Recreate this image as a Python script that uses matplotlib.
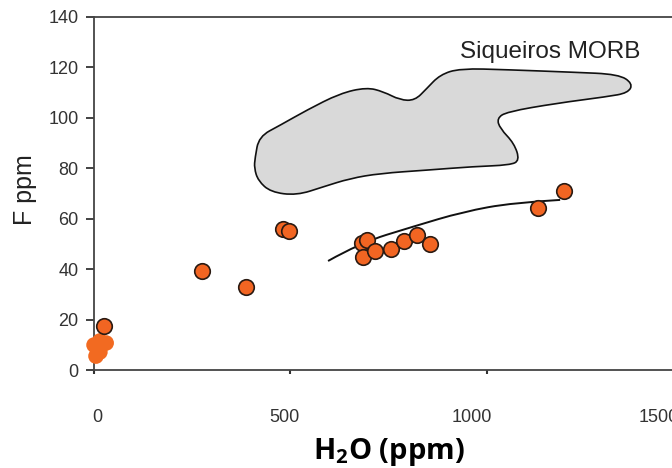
import matplotlib
matplotlib.use("Agg")
import matplotlib.pyplot as plt
from matplotlib.patches import PathPatch
from matplotlib.path import Path

plt.rcParams["font.family"] = ["Liberation Sans", "DejaVu Sans"]
plt.rcParams["mathtext.fontset"] = "custom"
plt.rcParams["mathtext.rm"] = "Open Sans"
plt.rcParams["mathtext.bf"] = "Open Sans:bold"

# samples with outline (H2O ppm, F ppm)
h2o = [25, 275, 387, 481, 497, 682, 694, 684, 716, 756, 789, 823, 856, 1131, 1198]
f_ppm = [17.4, 39.3, 33.0, 56.0, 55.0, 50.5, 51.5, 44.6, 47.2, 48.1, 51.2, 53.4, 49.9, 64.1, 71.0]

# low-H2O samples without outline
h2o_low = [0, 15, 31, 5, 15]
f_low = [9.9, 11.5, 10.7, 5.5, 7.1]

# trend curve (control points)
curve_h2o = [596, 677, 812, 940, 1067, 1187]
curve_f = [43.2, 50.3, 56.8, 62.7, 66.3, 67.4]

# Siqueiros MORB field outline (control points)
morb_h2o = [410, 420, 474, 542, 626, 694, 737, 779, 817, 847, 881, 932, 1051, 1220,
            1336, 1372, 1360, 1306, 1178, 1051, 1026, 1034, 1070, 1084, 1059, 966,
            847, 728, 652, 584, 516, 450, 418, 408]
morb_f = [84.0, 92.5, 97.0, 103.0, 109.6, 112.0, 110.3, 107.0, 106.8, 111.5, 117.0,
          119.5, 119.0, 118.0, 117.2, 113.5, 109.8, 108.3, 105.7, 102.3, 99.7, 95.7,
          89.8, 83.0, 81.2, 80.6, 79.2, 77.9, 75.9, 72.6, 69.2, 70.5, 75.0, 80.0]

x_ticks = [0, 500, 1000, 1500]
y_ticks = [0, 20, 40, 60, 80, 100, 120, 140]


def smooth_closed_path(xs, ys):
    # quadratic bezier through edge midpoints, control points at the vertices
    pts = list(zip(xs, ys))
    n = len(pts)
    mids = [((pts[i][0] + pts[(i + 1) % n][0]) / 2, (pts[i][1] + pts[(i + 1) % n][1]) / 2)
            for i in range(n)]
    verts = [mids[-1]]
    codes = [Path.MOVETO]
    for i in range(n):
        verts += [pts[i], mids[i]]
        codes += [Path.CURVE3, Path.CURVE3]
    verts.append(mids[-1])
    codes.append(Path.CLOSEPOLY)
    return Path(verts, codes)


def smooth_open_path(xs, ys):
    pts = list(zip(xs, ys))
    verts = [pts[0]]
    codes = [Path.MOVETO]
    for i in range(1, len(pts) - 1):
        mid = ((pts[i][0] + pts[i + 1][0]) / 2, (pts[i][1] + pts[i + 1][1]) / 2)
        if i == len(pts) - 2:
            mid = pts[-1]
        verts += [pts[i], mid]
        codes += [Path.CURVE3, Path.CURVE3]
    return Path(verts, codes)


fig = plt.figure(figsize=(6.72, 4.68), dpi=100)
ax = fig.add_axes([0.1399, 0.2094, 0.935, 0.7549])

field = PathPatch(smooth_closed_path(morb_h2o, morb_f), facecolor="#d9d9d9",
                  edgecolor="#111111", linewidth=1.2)
ax.add_patch(field)
ax.text(1161, 126, "Siqueiros MORB", fontsize=17.5, color="#222222",
        ha="center", va="center")

trend = PathPatch(smooth_open_path(curve_h2o, curve_f), facecolor="none",
                  edgecolor="#111111", linewidth=1.4, zorder=2)
ax.add_patch(trend)

ax.scatter(h2o_low, f_low, s=125, color="#f26a21", edgecolors="none", zorder=3,
           clip_on=False)
ax.scatter(h2o, f_ppm, s=125, color="#f26522", edgecolors="#2a1a12",
           linewidths=1.2, zorder=4, clip_on=False)

ax.set_xlim(0, 1600)
ax.set_ylim(0, 140)
ax.set_yticks(y_ticks)
ax.set_xticks(x_ticks)
ax.tick_params(axis="x", length=3, width=1.5, color="#333333", labelbottom=False)
ax.tick_params(axis="y", length=6, width=1.3, color="#333333", pad=5,
               labelsize=13, labelcolor="#333333")

for side in ["left", "bottom", "top"]:
    ax.spines[side].set_color("#444444")
    ax.spines[side].set_linewidth(1.3)
ax.spines["right"].set_visible(False)

# tick labels in the source sit on a slightly compressed scale
sec = ax.secondary_xaxis("bottom", functions=(lambda x: (x - 8) / 0.954,
                                               lambda v: 8 + 0.954 * v))
sec.set_xticks(x_ticks)
sec.tick_params(length=0, pad=28, labelsize=13, labelcolor="#333333")
sec.spines["bottom"].set_visible(False)

fig.text(389 / 672, 1 - 452 / 468, r"H$_\mathbf{2}$O (ppm)", family="Open Sans",
         fontweight="bold", fontsize=21, ha="center", va="center", color="black")
fig.text(25 / 672, 1 - 190 / 468, "F ppm", rotation=90, fontsize=18,
         ha="center", va="center", color="#222222")

fig.savefig("out.png", dpi=100)
